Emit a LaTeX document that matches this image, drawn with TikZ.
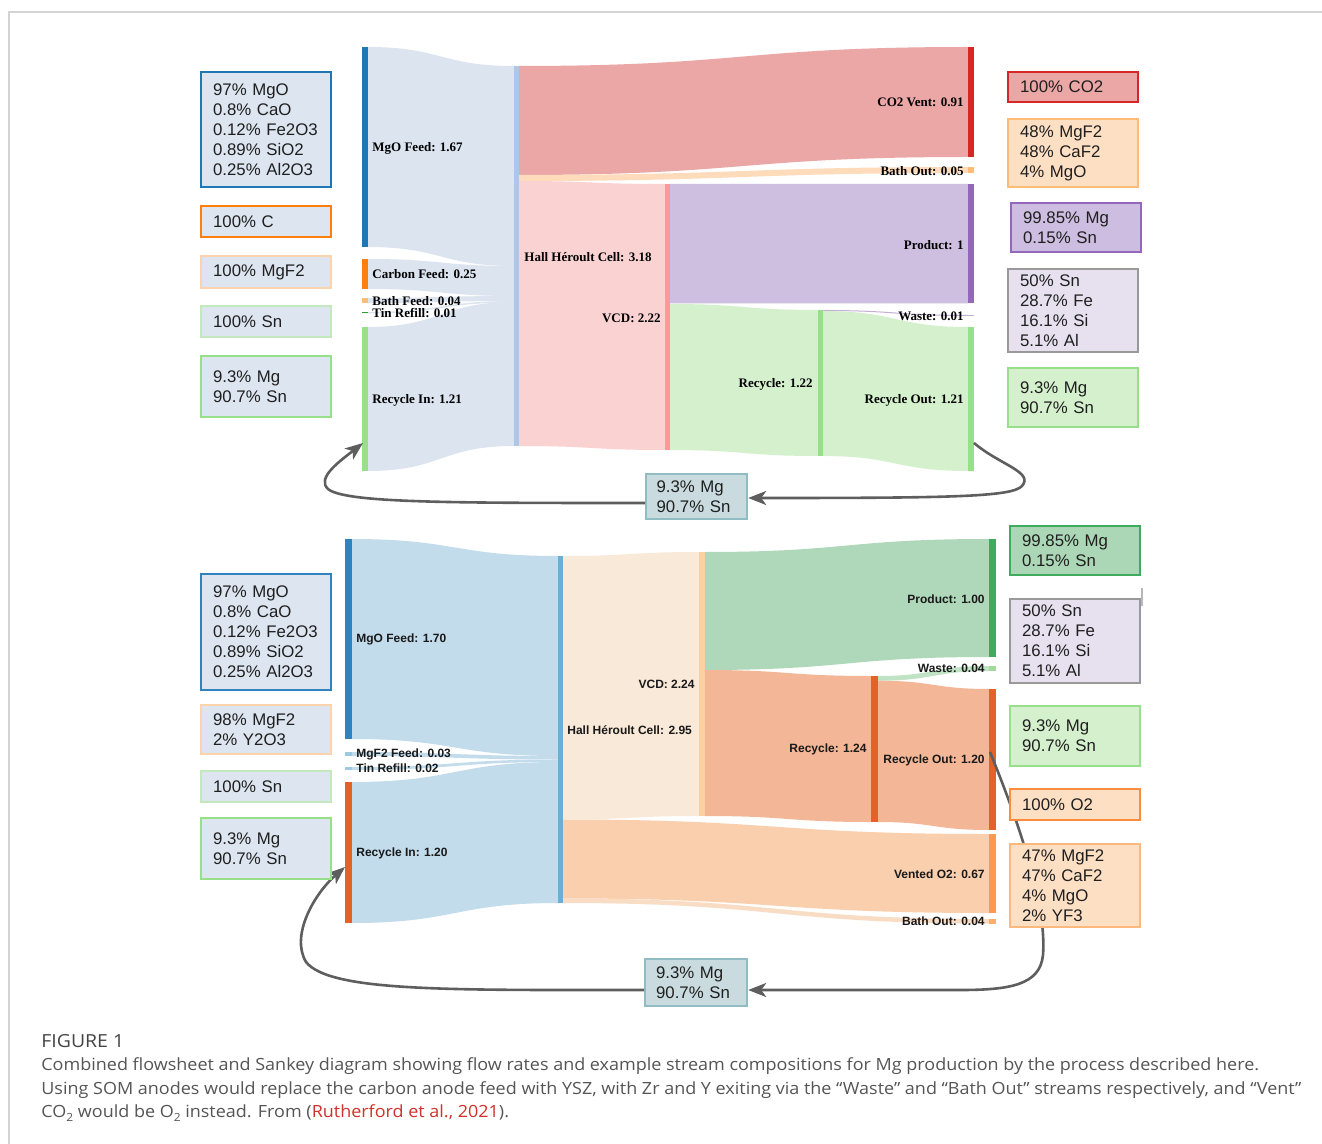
\documentclass[tikz,border=0pt]{standalone}
\usepackage{fontspec}
\usepackage{graphicx}
\setmainfont{Liberation Sans}
\newfontfamily\tnr{Liberation Serif}
\newfontfamily\capfont{Open Sans}
\usetikzlibrary{arrows.meta}

% top sankey colours
\definecolor{tlinkc}{HTML}{DCE4EF}
\definecolor{tmgo}{HTML}{1F77B4}
\definecolor{tcarb}{HTML}{FF7F0E}
\definecolor{tbath}{HTML}{FFBB78}
\definecolor{ttin}{HTML}{2CA02C}
\definecolor{tgreen}{HTML}{98DF8A}
\definecolor{thall}{HTML}{AEC7E8}
\definecolor{tco2l}{HTML}{EBA6A6}
\definecolor{tco2}{HTML}{D62728}
\definecolor{tbathl}{HTML}{FDDBBB}
\definecolor{tvcdl}{HTML}{FAD2D2}
\definecolor{tvcd}{HTML}{FF9896}
\definecolor{tprodl}{HTML}{CEBEE0}
\definecolor{tprod}{HTML}{9467BD}
\definecolor{trecl}{HTML}{D5F0CD}
\definecolor{twaste}{HTML}{C5B0D5}
% bottom sankey colours
\definecolor{blinkc}{HTML}{C2DCEC}
\definecolor{bmgo}{HTML}{3182BD}
\definecolor{bpale}{HTML}{9ECAE1}
\definecolor{borange}{HTML}{E6602A}
\definecolor{bhall}{HTML}{6BAED6}
\definecolor{bvcdl}{HTML}{F9E9D8}
\definecolor{bvcd}{HTML}{FDD0A2}
\definecolor{bventl}{HTML}{FACFAE}
\definecolor{bbathl}{HTML}{F9DCC4}
\definecolor{bvent}{HTML}{FD9A4F}
\definecolor{bbath}{HTML}{FDAE6B}
\definecolor{bprodl}{HTML}{AED8B9}
\definecolor{bprod}{HTML}{41AB5D}
\definecolor{bwaste}{HTML}{A1D99B}
\definecolor{bwastel}{HTML}{BFE3C4}
\definecolor{brecl}{HTML}{F3B797}
% boxes
\definecolor{boxfill}{HTML}{DDE5F0}
\definecolor{peachfill}{HTML}{FDDFC4}
\definecolor{lavfill}{HTML}{E6E0EF}
\definecolor{greenfill}{HTML}{D5F0CD}
\definecolor{prodfill}{HTML}{CDBDE0}
\definecolor{bprodfill}{HTML}{ACD7B6}
\definecolor{midfill}{HTML}{C9DBDF}
\definecolor{midedge}{HTML}{8FBDC3}
\definecolor{palepeach}{HTML}{FDD3AB}
\definecolor{palegreen}{HTML}{C3E8BB}
\definecolor{grayedge}{HTML}{999999}
\definecolor{o2edge}{HTML}{FD8D3C}
\definecolor{bathedge}{HTML}{FDB97D}
\definecolor{looparrow}{HTML}{5E5E5E}
\definecolor{capgray}{HTML}{555555}
\definecolor{figgray}{HTML}{444444}
\definecolor{refred}{HTML}{D0312D}
\definecolor{framegray}{HTML}{D4D4D4}

% Sankey link: x1, y1top, y1bot, x2, y2top, y2bot, colour
\newcommand\sklink[7]{%
  \fill[#7] (#1,#2) .. controls ({(#1+#4)/2},#2) and ({(#1+#4)/2},#5) .. (#4,#5)
    -- (#4,#6) .. controls ({(#1+#4)/2},#6) and ({(#1+#4)/2},#3) .. (#1,#3) -- cycle;}
% Sankey bar: name, x1, x2, ytop, ybot, colour
\newcommand\skbar[6]{%
  \node[fill=#6, inner sep=0pt, outer sep=0pt, minimum width={(#3-#2)*0.5pt},
        minimum height={(#5-#4)*0.5pt}, anchor=north west] (#1) at (#2,#4) {};}
% composition box: name, x1, y1, x2, y2, fill, draw, text
\newcommand\tbox[8]{%
  \node[cbox, fill=#6, draw=#7, minimum width={(#4-#2)*0.5pt},
        minimum height={(#5-#3)*0.5pt}] (#1) at (#2,#3) {#8};}

\newcommand\capfnt{\capfont\fontsize{8.4}{10}\selectfont}
\newcommand\subtwo{\raisebox{-0.35ex}{\fontsize{5.6}{6}\selectfont 2}}
\newcommand\captwo{Using SOM anodes would replace the carbon anode feed with YSZ, with Zr and Y exiting via the “Waste” and “Bath Out” streams respectively, and “Vent”}
\newsavebox\capbox
\AtBeginDocument{\sbox\capbox{\capfnt\captwo}}

\tikzset{
  tlab/.style={font=\tnr\bfseries\fontsize{6.5}{7}\selectfont, inner sep=0pt, text=black},
  blab/.style={font=\bfseries\fontsize{6}{7}\selectfont, inner sep=0pt, text=black!90},
  cbox/.style={draw, line width=1.1pt, anchor=north west, inner xsep=5.5pt, inner ysep=0pt,
    align=left, text width=53pt, font=\fontsize{8.4}{10}\selectfont, text=black!88},
  midbox/.style={cbox, fill=midfill, draw=midedge, text width=40pt, inner xsep=5pt},
  loopar/.style={draw=looparrow, line width=1.3pt,
    -{Stealth[length=9pt,width=7pt,inset=2.5pt]}},
  capline/.style={anchor=west, inner sep=0pt, text=capgray}
}

\begin{document}
\begin{tikzpicture}[x=0.5pt,y=-0.5pt]
\useasboundingbox (0,0) rectangle (1322,1144);
\fill[white] (0,0) rectangle (1322,1144);
\draw[framegray, line width=1pt] (9,1144) -- (9,12) -- (1322,12);

%================ TOP SANKEY =================
\sklink{368}{47}{247}{514}{66}{266}{tlinkc}
\sklink{368}{259}{289}{514}{266}{296}{tlinkc}
\sklink{368}{298}{303}{514}{296}{301}{tlinkc}
\sklink{368}{312}{313.5}{514}{301}{302.5}{tlinkc}
\sklink{368}{327}{471}{514}{302}{446}{tlinkc}
\sklink{519}{66}{175}{968}{47}{157}{tco2l}
\sklink{519}{175}{181}{968}{167}{173}{tbathl}
\sklink{519}{181}{446}{665}{184}{450}{tvcdl}
\sklink{670}{184}{303.5}{968}{184}{303.5}{tprodl}
\sklink{670}{304}{450}{818}{310}{456}{trecl}
\sklink{823}{310}{311}{968}{315}{316}{twaste}
\sklink{823}{311}{456}{968}{327}{471}{trecl}

\skbar{tMgO}{362}{368}{47}{247}{tmgo}
\skbar{tCarb}{362}{368}{259}{289}{tcarb}
\skbar{tBathF}{362}{368}{298}{303}{tbath}
\skbar{tTin}{362}{368}{312}{313.5}{ttin}
\skbar{tRecIn}{362}{368}{327}{471}{tgreen}
\skbar{tHall}{514}{519}{66}{446}{thall}
\skbar{tVCD}{665}{670}{184}{450}{tvcd}
\skbar{tRec}{818}{823}{310}{456}{tgreen}
\skbar{tCO2}{968}{974}{47}{157}{tco2}
\skbar{tBathO}{968}{974}{167}{173}{tbath}
\skbar{tProd}{968}{974}{184}{303.5}{tprod}
\skbar{tWaste}{968}{974}{315}{316}{twaste}
\skbar{tRecOut}{968}{974}{327}{471}{tgreen}

\node[tlab, anchor=west] (ltMgO) at (372,148) {MgO Feed: 1.67};
\node[tlab, anchor=west] (ltCarb) at (372,274) {Carbon Feed: 0.25};
\node[tlab, anchor=west] (ltBathF) at (372,301) {Bath Feed: 0.04};
\node[tlab, anchor=west] (ltTin) at (372,313) {Tin Refill: 0.01};
\node[tlab, anchor=west] (ltRecIn) at (372,400) {Recycle In: 1.21};
\node[tlab, anchor=west] (ltHall) at (524,257) {Hall Héroult Cell: 3.18};
\node[tlab, anchor=east] (ltVCD) at (661,318) {VCD: 2.22};
\node[tlab, anchor=east] (ltRec) at (813,384) {Recycle: 1.22};
\node[tlab, anchor=east] (ltCO2) at (964,102) {CO2 Vent: 0.91};
\node[tlab, anchor=east] (ltBathO) at (964,171) {Bath Out: 0.05};
\node[tlab, anchor=east] (ltProd) at (964,245) {Product: 1};
\node[tlab, anchor=east] (ltWaste) at (964,316) {Waste: 0.01};
\node[tlab, anchor=east] (ltRecOut) at (964,400) {Recycle Out: 1.21};

%================ BOTTOM SANKEY =================
\sklink{352}{539}{739}{558}{556}{756}{blinkc}
\sklink{352}{752}{756}{558}{756}{759.5}{blinkc}
\sklink{352}{767}{770}{558}{759.5}{762}{blinkc}
\sklink{352}{782}{923}{558}{762}{903}{blinkc}
\sklink{563}{556}{819.5}{699}{552}{816}{bvcdl}
\sklink{563}{819.5}{898.5}{989}{834}{913}{bventl}
\sklink{563}{898.5}{903}{989}{919}{923.5}{bbathl}
\sklink{705}{552}{670}{989}{539}{657}{bprodl}
\sklink{705}{670}{816}{871}{676}{822}{brecl}
\sklink{878}{676}{680.7}{989}{666}{671}{bwastel}
\sklink{878}{680.7}{822}{989}{689}{830}{brecl}

\skbar{bMgO}{345}{352}{539}{739}{bmgo}
\skbar{bMgF}{345}{352}{752}{756}{bpale}
\skbar{bTin}{345}{352}{767}{770}{bpale}
\skbar{bRecIn}{345}{352}{782}{923}{borange}
\skbar{bHall}{558}{563}{556}{903}{bhall}
\skbar{bVCD}{699}{705}{552}{816}{bvcd}
\skbar{bRec}{871}{878}{676}{822}{borange}
\skbar{bProd}{989}{996}{539}{657}{bprod}
\skbar{bWaste}{989}{996}{666}{671}{bwaste}
\skbar{bRecOut}{989}{996}{689}{830}{borange}
\skbar{bVent}{989}{996}{834}{913}{bvent}
\skbar{bBathO}{989}{996}{919}{923.5}{bbath}

\node[blab, anchor=west] (lbMgO) at (356,639) {MgO Feed: 1.70};
\node[blab, anchor=west] (lbMgF) at (356,754) {MgF2 Feed: 0.03};
\node[blab, anchor=west] (lbTin) at (356,768) {Tin Refill: 0.02};
\node[blab, anchor=west] (lbRecIn) at (356,853) {Recycle In: 1.20};
\node[blab, anchor=west] (lbHall) at (567,730) {Hall Héroult Cell: 2.95};
\node[blab, anchor=east] (lbVCD) at (695,684) {VCD: 2.24};
\node[blab, anchor=east] (lbRec) at (867,749) {Recycle: 1.24};
\node[blab, anchor=east] (lbProd) at (985,599) {Product: 1.00};
\node[blab, anchor=east] (lbWaste) at (985,668) {Waste: 0.04};
\node[blab, anchor=east] (lbRecOut) at (985,760) {Recycle Out: 1.20};
\node[blab, anchor=east] (lbVent) at (985,874) {Vented O2: 0.67};
\node[blab, anchor=east] (lbBathO) at (985,921) {Bath Out: 0.04};

%================ RECYCLE LOOPS =================
\node[midbox, minimum width=50.5pt, minimum height=22.5pt] (tmid) at (645,473) {9.3\% Mg\\90.7\% Sn};
\node[midbox, minimum width=51pt, minimum height=23.5pt] (bmid) at (644,958) {9.3\% Mg\\90.7\% Sn};

\coordinate (tROport) at (974,443);
\coordinate (tRIport) at (363,443);
\coordinate (bROport) at (990,752);
\coordinate (bRIport) at (345,867);

\draw[loopar] (tROport) .. controls (1000,465) and (1034,472) .. (1022,486)
  .. controls (1012,497) and (950,498) .. (tmid.east |- 0,498);
\draw[loopar] (tmid.west |- 0,503) .. controls (450,503) and (345,503) .. (328,489)
  .. controls (316,478) and (340,461) .. (tRIport);

\draw[loopar] (bROport) .. controls (1030,850) and (1046,915) .. (1043,955)
  .. controls (1040,985) and (1010,990) .. (960,990) -- (bmid.east |- 0,990);
\draw[loopar] (bmid.west |- 0,990) .. controls (450,990) and (330,992) .. (306,962)
  .. controls (290,935) and (315,893) .. (bRIport);

%================ COMPOSITION BOXES =================
% top left
\tbox{tbMgO}{200}{71}{330}{186}{boxfill}{tmgo}{97\% MgO\\0.8\% CaO\\0.12\% Fe2O3\\0.89\% SiO2\\0.25\% Al2O3}
\tbox{tbC}{200}{205}{330}{236}{boxfill}{tcarb}{100\% C}
\tbox{tbMgF}{200}{255}{330}{287}{boxfill}{palepeach}{100\% MgF2}
\tbox{tbSn}{200}{305}{330}{336}{boxfill}{palegreen}{100\% Sn}
\tbox{tbRecIn}{200}{355}{330}{416}{boxfill}{tgreen}{9.3\% Mg\\90.7\% Sn}
% top right
\tbox{tbCO2}{1007}{71}{1137}{101}{tco2l}{tco2}{100\% CO2}
\tbox{tbBath}{1007}{118}{1137}{186}{peachfill}{tbath}{48\% MgF2\\48\% CaF2\\4\% MgO}
\tbox{tbProd}{1010}{202}{1140}{251}{prodfill}{tprod}{99.85\% Mg\\0.15\% Sn}
\tbox{tbWaste}{1007}{268}{1137}{351}{lavfill}{grayedge}{50\% Sn\\28.7\% Fe\\16.1\% Si\\5.1\% Al}
\tbox{tbRecOut}{1007}{367}{1137}{426}{greenfill}{tgreen}{9.3\% Mg\\90.7\% Sn}
% bottom left
\tbox{bbMgO}{200}{573}{330}{689}{boxfill}{bmgo}{97\% MgO\\0.8\% CaO\\0.12\% Fe2O3\\0.89\% SiO2\\0.25\% Al2O3}
\tbox{bbMgF}{200}{704}{330}{753}{boxfill}{palepeach}{98\% MgF2\\2\% Y2O3}
\tbox{bbSn}{200}{770}{330}{801}{boxfill}{palegreen}{100\% Sn}
\tbox{bbRecIn}{200}{817}{330}{878}{boxfill}{tgreen}{9.3\% Mg\\90.7\% Sn}
% bottom right
\tbox{bbProd}{1009}{525}{1139}{574}{bprodfill}{bprod}{99.85\% Mg\\0.15\% Sn}
\tbox{bbWaste}{1009}{598}{1139}{682}{lavfill}{grayedge}{50\% Sn\\28.7\% Fe\\16.1\% Si\\5.1\% Al}
\tbox{bbRecOut}{1009}{705}{1139}{765}{greenfill}{tgreen}{9.3\% Mg\\90.7\% Sn}
\tbox{bbO2}{1009}{788}{1139}{819}{peachfill}{o2edge}{100\% O2}
\tbox{bbBath}{1009}{843}{1139}{926}{peachfill}{bathedge}{47\% MgF2\\47\% CaF2\\4\% MgO\\2\% YF3}
\draw[grayedge!70, line width=1pt] (1142,588) -- (1142,606);

%================ CAPTION =================
\pgfmathsetmacro\capsc{630pt/\the\wd\capbox}
\node[capline, text=figgray] (fig) at (41,1041) {\scalebox{1.08}[1]{\capfont\fontsize{9}{10}\selectfont FIGURE 1}};
\node[capline] (cap1) at (41,1066) {\scalebox{\capsc}[1]{\capfnt Combined flowsheet and Sankey diagram showing flow rates and example stream compositions for Mg production by the process described here.}};
\node[capline] (cap2) at (41,1090) {\scalebox{\capsc}[1]{\capfnt\captwo}};
\node[capline] (cap3) at (41,1113) {\scalebox{\capsc}[1]{\capfnt CO\subtwo{} would be O\subtwo{} instead. From ({\color{refred}Rutherford et al., 2021}).}};
\end{tikzpicture}
\end{document}
